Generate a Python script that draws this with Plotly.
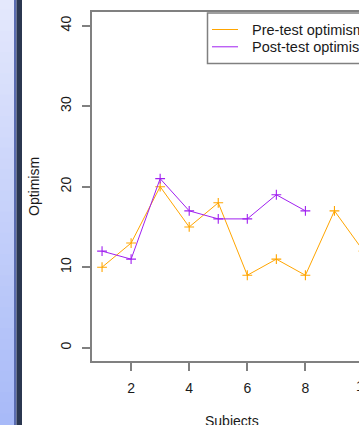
import plotly.graph_objects as go

# ---- data ----
subjects_pre = [1, 2, 3, 4, 5, 6, 7, 8, 9, 10]
pre_test = [10, 13, 20, 15, 18, 9, 11, 9, 17, 12]
subjects_post = [1, 2, 3, 4, 5, 6, 7, 8]
post_test = [12, 11, 21, 17, 16, 16, 19, 17]
series_names = ["Pre-test optimism", "Post-test optimism"]
x_title = "Subjects"
y_title = "Optimism"
x_ticks = [2, 4, 6, 8]
y_ticks = [0, 10, 20, 30, 40]

ORANGE = "#FFA500"
PURPLE = "#A020F0"
AXIS = "#808080"
FONT = "Liberation Sans, Arial, sans-serif"
TXT = "#1a1a1a"

W, H = 359, 425
ML, MR, MT, MB = 92, 0, 12, 64
PW = W - ML - MR
PH = H - MT - MB


def px(x):
    return (x - ML) / PW


def py(y):
    return (H - MB - y) / PH


fig = go.Figure()
for xs, ys, name, col in [(subjects_pre, pre_test, series_names[0], ORANGE),
                          (subjects_post, post_test, series_names[1], PURPLE)]:
    fig.add_trace(go.Scatter(
        x=xs, y=ys, name=name, mode="lines+markers",
        line=dict(color=col, width=1),
        marker=dict(symbol="cross-thin", size=7, color=col,
                    line=dict(color=col, width=1.1)),
        showlegend=False, cliponaxis=True,
    ))

shapes = []
# left slide strip (gradient approximated by bands)
n = 40
top = (228, 232, 252)
bot = (168, 186, 248)
for i in range(n):
    t = i / (n - 1)
    c = tuple(round(top[k] + (bot[k] - top[k]) * t) for k in range(3))
    shapes.append(dict(type="rect", xref="paper", yref="paper",
                       x0=px(-1), x1=px(14.5),
                       y0=py(H * (i + 1) / n + 1), y1=py(H * i / n - 1),
                       fillcolor="rgb(%d,%d,%d)" % c, line=dict(width=0), layer="below"))
shapes.append(dict(type="rect", xref="paper", yref="paper", x0=px(14), x1=px(16.5),
                   y0=py(H + 2), y1=py(-2), fillcolor="#5a6cb0", line=dict(width=0)))
shapes.append(dict(type="rect", xref="paper", yref="paper", x0=px(16.5), x1=px(22),
                   y0=py(H + 2), y1=py(-2), fillcolor="#2b3750", line=dict(width=0)))

# legend box
shapes.append(dict(type="rect", xref="paper", yref="paper", x0=px(207.5), x1=px(W + 20),
                   y0=py(63.5), y1=py(13), line=dict(color=AXIS, width=1.5),
                   fillcolor="white"))
for yy, col in [(29.5, ORANGE), (46.8, PURPLE)]:
    shapes.append(dict(type="line", xref="paper", yref="paper", x0=px(212), x1=px(238),
                       y0=py(yy), y1=py(yy), line=dict(color=col, width=1)))

annotations = []
for yy, name in [(29.5, series_names[0]), (46.8, series_names[1])]:
    annotations.append(dict(x=px(250), y=py(yy), xref="paper", yref="paper",
                            text=name, showarrow=False, xanchor="left", yanchor="middle",
                            font=dict(family=FONT, size=14.5, color=TXT)))
annotations.append(dict(x=px(232), y=py(421), xref="paper", yref="paper", text=x_title,
                        showarrow=False, xanchor="center", yanchor="middle",
                        font=dict(family=FONT, size=14, color=TXT)))
annotations.append(dict(x=px(34), y=py(187), xref="paper", yref="paper", text=y_title,
                        textangle=-90, showarrow=False, xanchor="center", yanchor="middle",
                        font=dict(family=FONT, size=14, color=TXT)))
annotations.append(dict(x=px(364), y=py(386), xref="paper", yref="paper", text="10",
                        showarrow=False, xanchor="center", yanchor="middle",
                        font=dict(family=FONT, size=14, color=TXT)))

fig.update_layout(
    width=W, height=H,
    margin=dict(l=ML, r=MR, t=MT, b=MB, pad=0),
    paper_bgcolor="white", plot_bgcolor="white",
    shapes=shapes, annotations=annotations,
    font=dict(family=FONT, size=14, color=TXT),
    xaxis=dict(range=[0.654, 9.845], tickvals=x_ticks, showgrid=False, zeroline=False,
               showline=True, linecolor=AXIS, linewidth=2, mirror=True, automargin=False,
               ticks="outside", ticklen=8, tickwidth=2, tickcolor=AXIS,
               ticklabelstandoff=5, tickfont=dict(family=FONT, size=14, color=TXT)),
    yaxis=dict(range=[-1.65, 41.7], tickvals=y_ticks, showgrid=False, zeroline=False,
               showline=True, linecolor=AXIS, linewidth=2, mirror=False, automargin=False,
               ticks="outside", ticklen=8, tickwidth=2, tickcolor=AXIS, tickangle=-90,
               ticklabelstandoff=5, tickfont=dict(family=FONT, size=14, color=TXT)),
)

fig.write_html("out.html", config={"displayModeBar": False},
               post_script="document.body.style.margin='0';document.body.style.padding='0';")
